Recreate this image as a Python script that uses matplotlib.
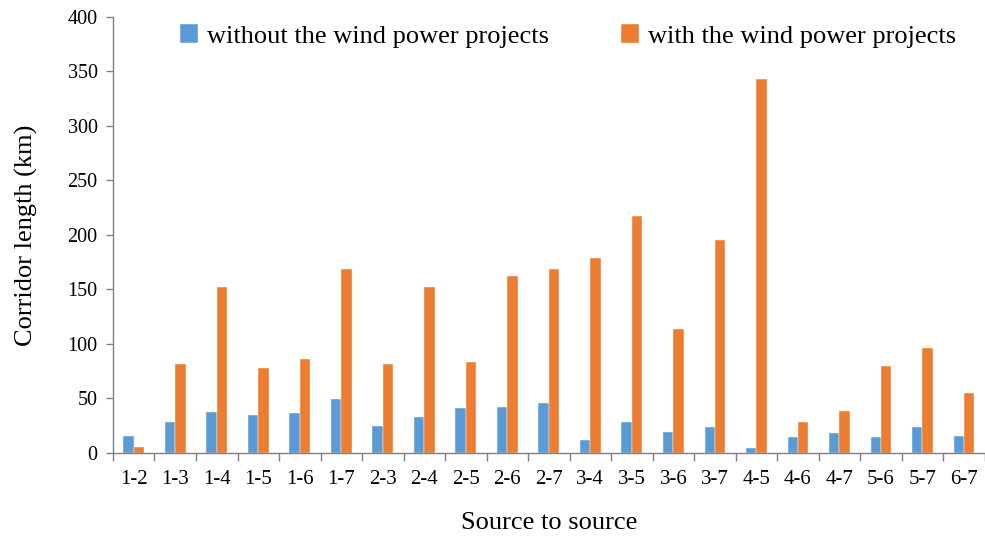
import numpy as np
import matplotlib.pyplot as plt

plt.rcParams['font.family'] = 'Liberation Serif'

pairs = ['1-2', '1-3', '1-4', '1-5', '1-6', '1-7', '2-3', '2-4', '2-5', '2-6', '2-7',
         '3-4', '3-5', '3-6', '3-7', '4-5', '4-6', '4-7', '5-6', '5-7', '6-7']
without_wind = [16, 28.5, 38, 35, 36.5, 49.5, 25, 33, 41, 42.5, 46,
                12, 28.5, 19.5, 23.5, 4.6, 14.5, 18, 14.5, 24, 15.7]
with_wind = [5.5, 82, 152, 77.5, 86, 169, 82, 152, 83.3, 162, 169,
             178.5, 217, 113.5, 195, 343.5, 28.5, 38.5, 80, 96.5, 54.7]

BLUE = '#5B9BD5'
ORANGE = '#ED7D31'

fig = plt.figure(figsize=(9.85, 5.41), dpi=100)
ax = fig.add_axes([0.1147, 0.1627, 0.885, 0.806])

x = np.arange(len(pairs))
w = 0.25
ax.bar(x - w / 2, without_wind, w, color=BLUE, edgecolor='white', linewidth=0.3,
       label='without the wind power projects')
ax.bar(x + w / 2, with_wind, w, color=ORANGE, edgecolor='white', linewidth=0.3,
       label='with the wind power projects')

ax.set_xlim(-0.5, len(pairs) - 0.5)
ax.set_ylim(0, 400)
ax.set_yticks(np.arange(0, 401, 50))
ax.set_xticks(x)
ax.set_xticklabels(pairs, fontsize=15)
ax.set_xticks(np.arange(-0.5, len(pairs)), minor=True)
ax.tick_params(axis='x', which='major', length=0, pad=12)
ax.tick_params(axis='x', which='minor', length=6, color='#7f7f7f', width=1)
ax.tick_params(axis='y', length=5, color='#7f7f7f', width=1, labelsize=14.5, pad=6)

for s in ['top', 'right']:
    ax.spines[s].set_visible(False)
for s in ['left', 'bottom']:
    ax.spines[s].set_color('#7f7f7f')
    ax.spines[s].set_linewidth(1)

ax.set_ylabel('Corridor length (km)', fontsize=19, labelpad=21)
ax.set_xlabel('Source to source', fontsize=19, labelpad=17)

ax.legend(loc='upper center', bbox_to_anchor=(0.522, 1.038), ncol=2, frameon=False,
          fontsize=19, handlelength=0.7, handleheight=0.7, handletextpad=0.35,
          columnspacing=2.7)

fig.savefig('out.png', dpi=100)
